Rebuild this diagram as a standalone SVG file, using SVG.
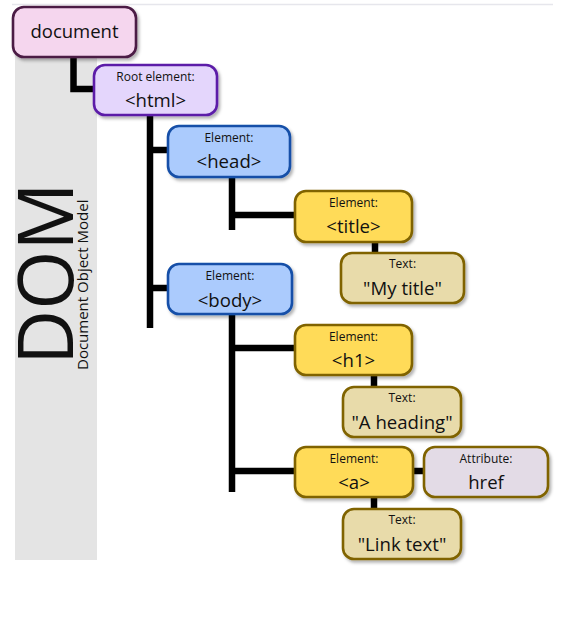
<svg xmlns="http://www.w3.org/2000/svg" width="561" height="639" viewBox="0 0 561 639">
<defs>
<filter id="sh" x="-10%" y="-10%" width="130%" height="140%">
<feDropShadow dx="2" dy="2.5" stdDeviation="1.5" flood-color="#000" flood-opacity="0.3"/>
</filter>
</defs>
<style>
text{font-family:"Open Sans","Noto Sans","DejaVu Sans",sans-serif;fill:#111;text-anchor:middle}
.lbl{font-size:12px}
.val{font-size:18.6px}
.box{stroke-width:2.6;filter:url(#sh)}
.doc{fill:#f5d6ee;stroke:#4b1a44}
.root{fill:#e4d6fc;stroke:#5c1ea8}
.blue{fill:#abcbfd;stroke:#1450a8}
.yel{fill:#ffdb58;stroke:#806400}
.txt{fill:#e8dbaa;stroke:#806400}
.attr{fill:#e3dbe6;stroke:#806400}
.con{stroke:#000;stroke-width:6.5;fill:none;stroke-linejoin:miter}
</style>
<rect x="0" y="0" width="561" height="639" fill="#fff"/>
<line x1="12" y1="4.5" x2="553" y2="4.5" stroke="#e6e6ec" stroke-width="1.5"/>
<rect x="15" y="20" width="82" height="540" fill="#e4e4e4"/>
<text transform="translate(73,365) rotate(-90)" style="font-size:76px;text-anchor:start">DOM</text>
<text transform="translate(88,370) rotate(-90)" style="font-size:15px;text-anchor:start">Document Object Model</text>
<g id="connectors">
<path class="con" d="M73.5 57 V89 H93"/>
<path class="con" d="M150 115 V328"/>
<path class="con" d="M150 150 H168"/>
<path class="con" d="M150 288 H168"/>
<path class="con" d="M232 177 V230"/>
<path class="con" d="M232 215 H295"/>
<path class="con" d="M375 242 V253"/>
<path class="con" d="M232 314 V492"/>
<path class="con" d="M232 348 H295"/>
<path class="con" d="M374 375 V387"/>
<path class="con" d="M232 471 H295"/>
<path class="con" d="M412 471 H425"/>
<path class="con" d="M374 497 V509"/>
</g>
<g id="document">
<rect class="box doc" x="13" y="7" width="123" height="50" rx="11"/>
<text x="74.5" y="38" style="font-size:18.5px">document</text>
</g>
<g id="html">
<rect class="box root" x="94" y="65" width="123" height="50" rx="11"/>
<text class="lbl" x="155.5" y="81">Root element:</text>
<text class="val" x="155.5" y="107">&lt;html&gt;</text>
</g>
<g id="head">
<rect class="box blue" x="168" y="126" width="122" height="51" rx="11"/>
<text class="lbl" x="229" y="142">Element:</text>
<text class="val" x="229" y="168">&lt;head&gt;</text>
</g>
<g id="title">
<rect class="box yel" x="295" y="191" width="117" height="51" rx="11"/>
<text class="lbl" x="353.5" y="207">Element:</text>
<text class="val" x="353.5" y="233">&lt;title&gt;</text>
</g>
<g id="mytitle">
<rect class="box txt" x="341" y="253" width="123" height="50" rx="11"/>
<text class="lbl" x="402.5" y="268">Text:</text>
<text class="val" x="402.5" y="295">"My title"</text>
</g>
<g id="body">
<rect class="box blue" x="168" y="264" width="124" height="50" rx="11"/>
<text class="lbl" x="230" y="280">Element:</text>
<text class="val" x="230" y="307">&lt;body&gt;</text>
</g>
<g id="h1">
<rect class="box yel" x="295" y="325" width="117" height="50" rx="11"/>
<text class="lbl" x="353.5" y="341">Element:</text>
<text class="val" x="353.5" y="367">&lt;h1&gt;</text>
</g>
<g id="aheading">
<rect class="box txt" x="343" y="387" width="118" height="50" rx="11"/>
<text class="lbl" x="402" y="402">Text:</text>
<text class="val" x="402" y="429">"A heading"</text>
</g>
<g id="a">
<rect class="box yel" x="295" y="447" width="118" height="50" rx="11"/>
<text class="lbl" x="354" y="463">Element:</text>
<text class="val" x="354" y="489">&lt;a&gt;</text>
</g>
<g id="href">
<rect class="box attr" x="424" y="447" width="124" height="50" rx="11"/>
<text class="lbl" x="486" y="463">Attribute:</text>
<text class="val" x="486" y="489">href</text>
</g>
<g id="linktext">
<rect class="box txt" x="343" y="509" width="118" height="50" rx="11"/>
<text class="lbl" x="402" y="524">Text:</text>
<text class="val" x="402" y="551">"Link text"</text>
</g>
</svg>
